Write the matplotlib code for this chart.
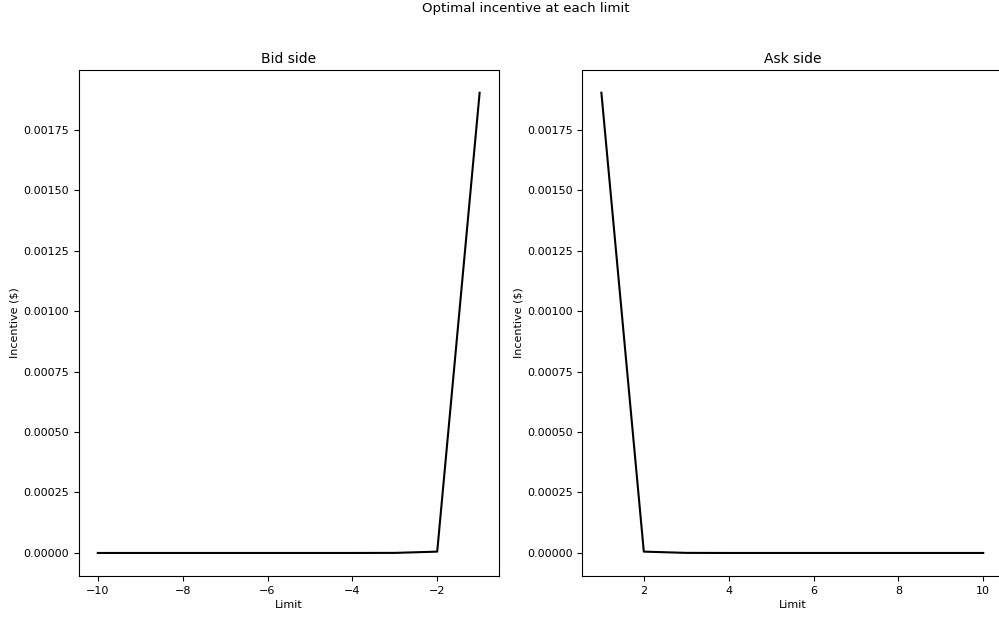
import numpy as np
import matplotlib
matplotlib.use("Agg")
import matplotlib.pyplot as plt

# Limits on each side of the book
bid_limits = [-10, -9, -8, -7, -6, -5, -4, -3, -2, -1]
ask_limits = [1, 2, 3, 4, 5, 6, 7, 8, 9, 10]

# Optimal incentive ($)
bid_incentive = [0.0, 0.0, 0.0, 0.0, 0.0, 0.0, 0.0, 0.0000003, 0.0000055, 0.001903]
ask_incentive = [0.001903, 0.0000055, 0.0000003, 0.0, 0.0, 0.0, 0.0, 0.0, 0.0, 0.0]

fig, (ax1, ax2) = plt.subplots(1, 2, figsize=(9.99, 6.17), dpi=100)
fig.subplots_adjust(left=0.0788, right=1.0033, top=0.887, bottom=0.0665, wspace=0.199)

ax1.plot(bid_limits, bid_incentive, color='black')
ax1.set_title('Bid side', fontsize=10, pad=4.5)
ax1.set_xlabel('Limit', fontsize=8, labelpad=3.3)
ax1.set_ylabel('Incentive ($)', fontsize=8, labelpad=2.5)

ax2.plot(ask_limits, ask_incentive, color='black')
ax2.set_title('Ask side', fontsize=10, pad=4.5)
ax2.set_xlabel('Limit', fontsize=8, labelpad=3.3)
ax2.set_ylabel('Incentive ($)', fontsize=8, labelpad=2.5)

for ax in (ax1, ax2):
    ax.tick_params(labelsize=8)

fig.suptitle('Optimal incentive at each limit', fontsize=9.6, x=0.526, y=0.996)

fig.savefig('out.png', dpi=100)
